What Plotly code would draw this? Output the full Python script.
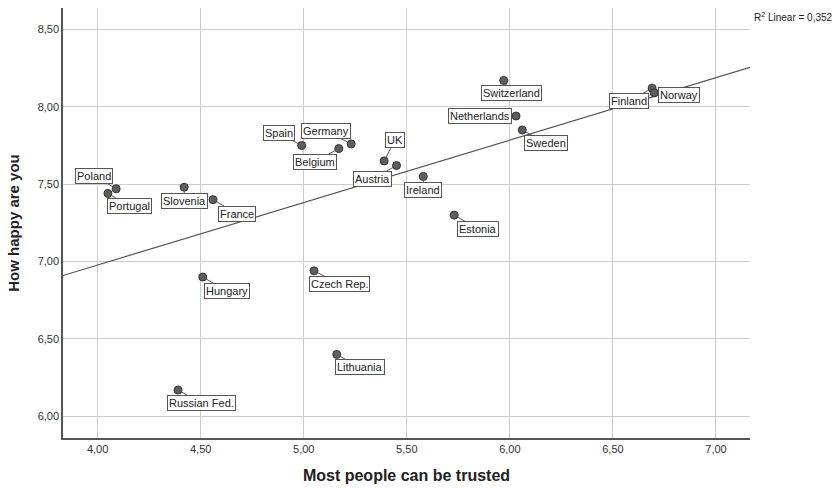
import numpy as np
import plotly.graph_objects as go

countries = ["Poland", "Portugal", "Slovenia", "France", "Spain", "Belgium", "Germany",
             "UK", "Austria", "Ireland", "Estonia", "Switzerland", "Netherlands", "Sweden",
             "Finland", "Norway", "Hungary", "Czech Rep.", "Lithuania", "Russian Fed."]
trust = [4.09, 4.05, 4.42, 4.56, 4.99, 5.17, 5.23,
         5.39, 5.45, 5.58, 5.73, 5.97, 6.03, 6.06,
         6.69, 6.70, 4.51, 5.05, 5.16, 4.39]
happy = [7.47, 7.44, 7.48, 7.40, 7.75, 7.73, 7.76,
         7.65, 7.62, 7.55, 7.30, 8.17, 7.94, 7.85,
         8.12, 8.09, 6.90, 6.94, 6.40, 6.17]
x_ticks = [4.0, 4.5, 5.0, 5.5, 6.0, 6.5, 7.0]
y_ticks = [6.0, 6.5, 7.0, 7.5, 8.0, 8.5]
r2_text = "R<sup>2</sup> Linear = 0,352"

# label placement (pixel offsets of label centre from the point)
label_offsets = {
    "Poland": (-22, -13), "Portugal": (22, 13), "Slovenia": (0, 14), "France": (24, 14),
    "Spain": (-23, -12), "Belgium": (-24, 13), "Germany": (-25, -13), "UK": (11, -21),
    "Austria": (-24, 13), "Ireland": (0, 14), "Estonia": (24, 14), "Switzerland": (8, 13),
    "Netherlands": (-36, 0), "Sweden": (24, 13), "Finland": (-23, 13), "Norway": (25, 2),
    "Hungary": (24, 14), "Czech Rep.": (25, 13), "Lithuania": (23, 13), "Russian Fed.": (23, 13),
}

x_range = [3.832, 7.165]
y_range = [5.86, 8.638]

slope, intercept = np.polyfit(trust, happy, 1)
line_x = np.array(x_range)
line_y = slope * line_x + intercept

FONT = "Liberation Sans, Arial, sans-serif"

fig = go.Figure()
fig.add_trace(go.Scatter(x=line_x, y=line_y, mode="lines",
                         line=dict(color="#555555", width=1.2), hoverinfo="skip"))
fig.add_trace(go.Scatter(x=trust, y=happy, mode="markers",
                         marker=dict(size=8, color="#5e5e5e", line=dict(color="#333333", width=1)),
                         text=countries))

for c, xv, yv in zip(countries, trust, happy):
    ax, ay = label_offsets[c]
    fig.add_annotation(x=xv, y=yv, text=c, showarrow=True, ax=ax, ay=ay,
                       arrowhead=0, arrowwidth=1, arrowcolor="#555555", standoff=4,
                       font=dict(family=FONT, size=11, color="#222222"),
                       bgcolor="white", bordercolor="#555555", borderwidth=1, borderpad=1)

fig.add_annotation(xref="paper", yref="paper", x=1.003, y=0.979, xanchor="left", yanchor="middle",
                   text=r2_text, showarrow=False,
                   font=dict(family=FONT, size=10, color="#222222"))

axis_common = dict(showgrid=True, gridcolor="#cccccc", gridwidth=1.2, zeroline=False,
                   showline=True, linecolor="#555555", linewidth=1.5, automargin=False,
                   tickfont=dict(family=FONT, size=11, color="#333333"),
                   tickformat=".2f", ticks="")
fig.update_xaxes(range=x_range, tickvals=x_ticks, **axis_common,
                 title=dict(text="<b>Most people can be trusted</b>", standoff=16,
                            font=dict(family=FONT, size=16, color="#222222")))
fig.update_yaxes(range=y_range, tickvals=y_ticks, **axis_common,
                 title=dict(text="<b>How happy are you</b>", standoff=14,
                            font=dict(family=FONT, size=15, color="#222222")))

fig.update_layout(width=836, height=488, margin=dict(l=63, r=86, t=8, b=50),
                  plot_bgcolor="white", paper_bgcolor="white", showlegend=False,
                  separators=", ")
fig.write_html("out.html")
